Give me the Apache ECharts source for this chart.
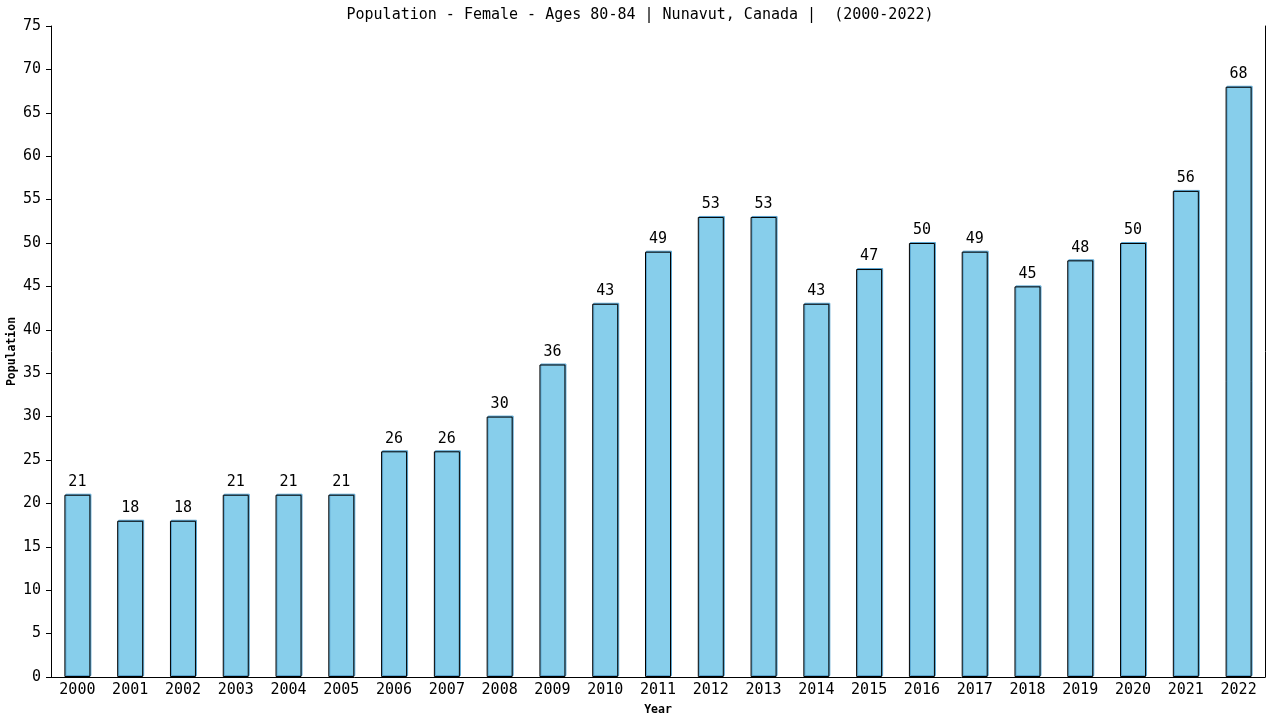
<!DOCTYPE html>
<html>
<head>
<meta charset="utf-8">
<script src="https://cdn.jsdelivr.net/npm/echarts@6/dist/echarts.min.js"></script>
<style>html,body{margin:0;padding:0;background:#fff}#c{width:1280px;height:720px}</style>
</head>
<body>
<div id="c"></div>
<script>
const titleText = 'Population - Female - Ages 80-84 | Nunavut, Canada |  (2000-2022)';
const years = ['2000','2001','2002','2003','2004','2005','2006','2007','2008','2009','2010','2011','2012','2013','2014','2015','2016','2017','2018','2019','2020','2021','2022'];
const population = [21,18,18,21,21,21,26,26,30,36,43,49,53,53,43,47,50,49,45,48,50,56,68];
const yMin = 0, yMax = 75, yStep = 5;

const font = 'DejaVu Sans Mono';
const chart = echarts.init(document.getElementById('c'), null, {renderer:'canvas'});
chart.setOption({
  animation: false,
  backgroundColor: '#fff',
  title: {
    text: titleText, left: 'center', top: 3,
    textStyle: {fontFamily: font, fontSize: 15, fontWeight: 'normal', color: '#000'}
  },
  grid: {left: 51, right: 15, top: 26, bottom: 43, containLabel: false, outerBoundsMode: 'none'},
  xAxis: {
    type: 'category', data: years,
    name: 'Year', nameLocation: 'middle', nameGap: 27, nameMoveOverlap: false,
    nameTextStyle: {fontFamily: font, fontSize: 11.5, fontWeight: 'bold', color: '#000'},
    axisLine: {lineStyle: {color: '#000', width: 1}},
    axisTick: {show: false},
    axisLabel: {fontFamily: font, fontSize: 15, color: '#000', margin: 6, interval: 0}
  },
  yAxis: [{
    type: 'value', min: yMin, max: yMax, interval: yStep,
    name: 'Population', nameLocation: 'middle', nameGap: 33, nameMoveOverlap: false,
    nameTextStyle: {fontFamily: font, fontSize: 11.5, fontWeight: 'bold', color: '#000'},
    axisLine: {show: true, lineStyle: {color: '#000', width: 1}},
    axisTick: {show: true, length: 5, lineStyle: {color: '#000'}},
    axisLabel: {fontFamily: font, fontSize: 15, color: '#000', margin: 10},
    splitLine: {show: false}
  }, {
    type: 'value', min: yMin, max: yMax, interval: yStep, position: 'right',
    axisLine: {show: true, lineStyle: {color: '#000', width: 1}},
    axisTick: {show: false}, axisLabel: {show: false}, splitLine: {show: false}
  }],
  series: [{
    type: 'bar', data: population, barWidth: 26,
    itemStyle: {color: '#87ceeb', borderColor: '#000', borderWidth: 1,
      shadowColor: '#5aa5d0', shadowOffsetX: 1, shadowOffsetY: -1, shadowBlur: 0},
    label: {show: true, position: 'top', distance: 5, fontFamily: font, fontSize: 15, color: '#000'}
  }]
});
</script>
</body>
</html>
